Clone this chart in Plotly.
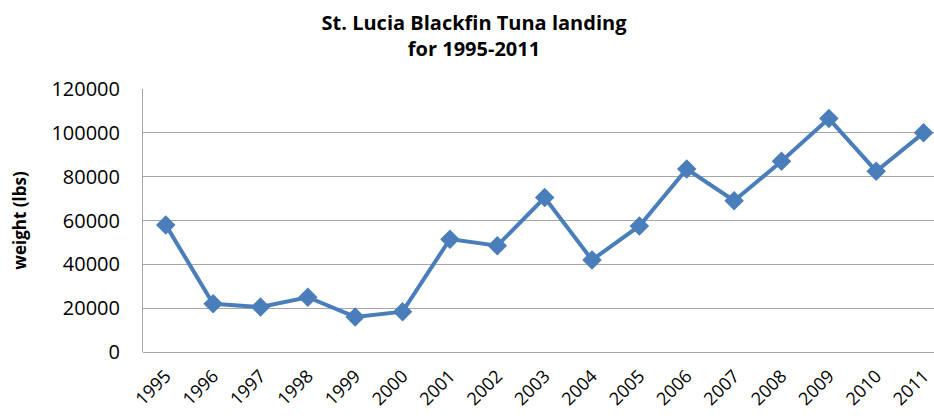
import plotly.graph_objects as go

years = ["1995", "1996", "1997", "1998", "1999", "2000", "2001", "2002", "2003",
         "2004", "2005", "2006", "2007", "2008", "2009", "2010", "2011"]
weights = [58000, 22000, 20500, 25000, 16000, 18400, 51500, 48500, 70500,
           42000, 57500, 83500, 69000, 87000, 106500, 82500, 100000]
y_ticks = [0, 20000, 40000, 60000, 80000, 100000, 120000]

FONT = "Open Sans"
fig = go.Figure()
fig.add_trace(go.Scatter(
    x=list(range(len(years))), y=weights, mode="lines+markers",
    line=dict(color="#4A7EBB", width=4),
    marker=dict(symbol="diamond", size=15, color="#4A7EBB"),
    cliponaxis=False, showlegend=False,
))

fig.update_layout(
    width=934, height=416,
    margin=dict(l=143, r=0, t=89, b=64),
    paper_bgcolor="white", plot_bgcolor="white",
    font=dict(family=FONT, color="#000000"),
    title=dict(
        text="<b>St. Lucia Blackfin Tuna landing<br>for 1995-2011</b>",
        x=474 / 934, xanchor="center", xref="container",
        y=1 - 30 / 416, yanchor="middle", yref="container",
        font=dict(family=FONT, size=20, color="#000000"),
    ),
    xaxis=dict(
        tickmode="array", tickvals=list(range(len(years))), ticktext=years,
        range=[-0.48, 16.22], tickangle=-45, showgrid=False,
        showline=False, zeroline=False, ticks="", automargin=False,
        tickfont=dict(family=FONT, size=18, color="#000000"),
        ticklabelstandoff=9, ticklabeloverflow="allow",
    ),
    yaxis=dict(
        range=[0, 120000], tickvals=y_ticks, tickformat="d", automargin=False,
        showgrid=True, gridcolor="#A6A6A6", gridwidth=1,
        showline=True, linecolor="#A6A6A6", linewidth=1,
        zeroline=True, zerolinecolor="#A6A6A6", zerolinewidth=1,
        ticks="", tickfont=dict(family=FONT, size=20, color="#000000"),
        ticklabelstandoff=18,
        title=dict(text="<b>weight (lbs)</b>", standoff=20,
                   font=dict(family=FONT, size=17, color="#000000")),
    ),
)

fig.write_html("out.html", config={"displayModeBar": False},
               post_script="document.body.style.margin='0px';")
